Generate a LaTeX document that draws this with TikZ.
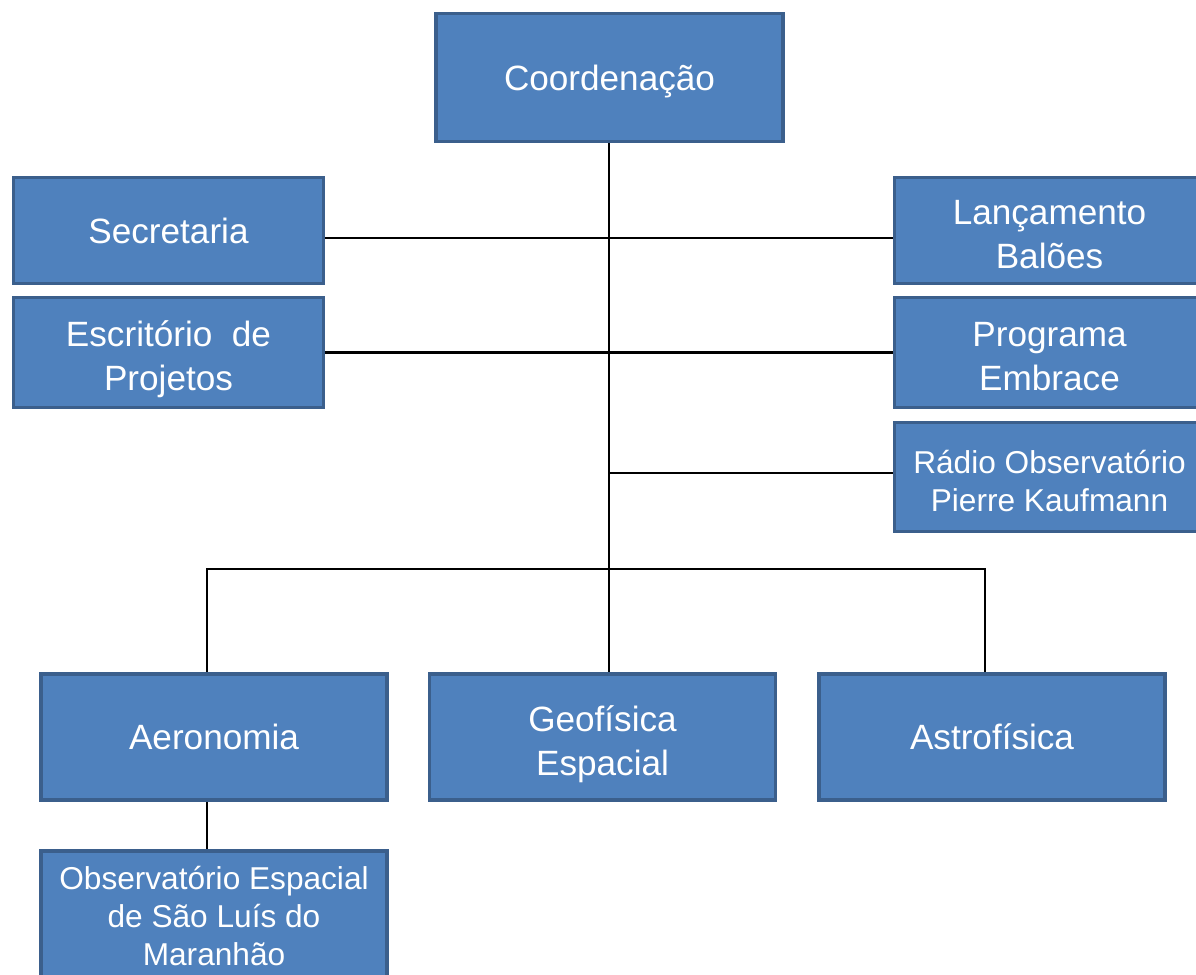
\documentclass[tikz,border=0pt]{standalone}
\usepackage{fontspec}
\setmainfont{Liberation Sans}
\usepackage{tikz}

\definecolor{unitfill}{HTML}{4F81BD}
\definecolor{unitedge}{HTML}{3B5F8C}

% push the first line of a box down a little
\newcommand{\lineup}[1]{\rule{0pt}{#1}}

\tikzset{
  unit/.style={draw=unitedge, fill=unitfill, line width=2.2pt, text=white,
    align=center, inner sep=0pt, font=\fontsize{20}{25}\selectfont,
    execute at begin node={\rule{0pt}{20pt}},
    execute at end node={\rule[-5.6pt]{0pt}{0pt}}},
  smallunit/.style={unit, font=\fontsize{18}{21.6}\selectfont,
    execute at begin node={\rule{0pt}{18pt}},
    execute at end node={\rule[-5.1pt]{0pt}{0pt}}},
  link/.style={line width=1.3pt}
}

\begin{document}
\begin{tikzpicture}[x=0.02cm, y=-0.02cm]
    % Fix the page size
    \useasboundingbox (0,0) rectangle (1196,974);

    % Top box
    \node[unit, minimum width=6.95cm, minimum height=2.56cm] (coord) at (609.5,77.5) {Coordena\c{c}\~ao};

    % Staff units on the left
    \node[unit, minimum width=6.2cm, minimum height=2.12cm] (sec) at (168.5,230.5) {Secretaria};
    \node[unit, minimum width=6.2cm, minimum height=2.2cm] (esc) at (168.5,352.5) {\lineup{24.2pt}Escrit\'orio\ \ de\\Projetos};

    % Staff units on the right
    \node[unit, minimum width=6.2cm, minimum height=2.12cm] (lan) at (1049.5,230.5) {\lineup{24.2pt}Lan\c{c}amento\\Bal\~oes};
    \node[unit, minimum width=6.2cm, minimum height=2.2cm] (prog) at (1049.5,352.5) {\lineup{24.2pt}Programa\\Embrace};
    \node[smallunit, minimum width=6.2cm, minimum height=2.18cm] (radio) at (1049.5,477) {\lineup{22.7pt}R\'adio Observat\'orio\\Pierre Kaufmann};

    % Divisions
    \node[unit, minimum width=6.92cm, minimum height=2.52cm] (aer) at (214,737) {Aeronomia};
    \node[unit, minimum width=6.92cm, minimum height=2.52cm] (geo) at (602.5,737) {\lineup{24.2pt}Geof\'isica\\Espacial};
    \node[unit, minimum width=6.92cm, minimum height=2.52cm] (astro) at (992,737) {Astrof\'isica};
    \node[smallunit, minimum width=6.92cm, minimum height=2.52cm] (osl) at (214,914) {\lineup{20.6pt}Observat\'orio Espacial\\de S\~ao Lu\'is do\\Maranh\~ao};

    % Junction points
    \coordinate (trunk) at (609,569);
    \coordinate (busL) at (207,569);
    \coordinate (busR) at (985,569);

    % Draw the connectors
    \draw[link] (coord.south -| trunk) -- (geo.north -| trunk);
    \draw[link] ([yshift=-0.15cm]sec.east) -- ([yshift=-0.15cm]lan.west);
    \draw[link] (esc.east) -- (prog.west);
    \draw[link] ([yshift=0.08cm]radio.west) -- ([yshift=0.08cm]radio.west -| trunk);
    \draw[link] (aer.north -| busL) -- (busL) -- (busR) -- (astro.north -| busR);
    \draw[link] (aer.south -| busL) -- (osl.north -| busL);
\end{tikzpicture}
\end{document}
